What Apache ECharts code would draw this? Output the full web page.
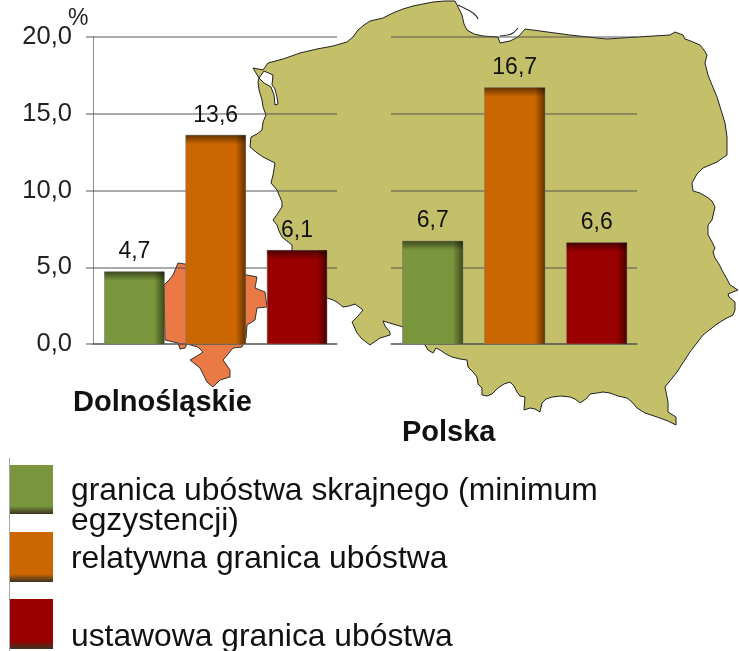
<!DOCTYPE html>
<html>
<head>
<meta charset="utf-8">
<style>
	html, body {margin: 0; padding: 0; background: #fff;}
	#chart {width: 739px; height: 651px;}
</style>
<script src="https://cdn.jsdelivr.net/npm/echarts@6/dist/echarts.min.js"></script>
</head>
<body>
<div id="chart"></div>
<script>
	// dane
	const categories = ['granica skrajna', 'relatywna', 'ustawowa'];
	const dolnoslaskie = [4.7, 13.6, 6.1];
	const polska = [6.7, 16.7, 6.6];
	const barColors = ['#7a963c', '#cc6600', '#990000'];
	const groupNames = ['Dolnośląskie', 'Polska'];
	const unit = '%';

	// kontury map (tylko tlo, piksele)
	const polandOutline = [[253,68],[263,70],[268,63],[283,59],[300,53],[317,49],[333,46],[347,42],[353,37],[358,30],[364,25],[370,21],
		[383,18],[393,13],[403,9],[413,6],[433,2],[445,1],[455,1],[458,7],[462,15],[464,24],[467,30],[474,34],[483,36],[498,37],[500,43],[510,41],[518,37],[525,29],
		[570,35],[597,38],[607,39],[637,37],[670,35],[675,32],[683,35],[685,39],[688,40],[693,42],[700,45],[704,50],[707,55],[705,63],[708,75],[712,85],[717,97],[721,110],[725,123],[727,137],[727,155],
		[717,162],[703,168],[697,174],[692,183],[693,191],[700,193],[707,197],[712,201],[715,207],[712,220],[708,225],[708,235],[711,240],[715,248],[713,252],[715,258],[719,264],[723,272],[727,279],[730,285],[738,290],
		[728,294],[729,297],[735,302],[735,310],[733,315],[725,319],[717,324],[703,335],[690,352],[677,372],[665,387],[668,402],[668,412],[676,417],[676,425],
		[668,421],[657,417],[645,413],[637,408],[632,402],[627,398],[618,396],[610,393],[603,392],[597,393],[590,394],[587,398],[583,401],[580,403],[575,399],[570,397],[561,396],[552,397],[546,399],[542,403],[540,412],[535,409],[530,408],[524,410],[525,397],
		[520,396],[517,392],[514,386],[510,382],[504,384],[498,388],[492,394],[487,396],[482,395],[482,388],[478,384],[477,377],[473,372],[468,367],[467,360],[460,359],[452,357],[446,354],[440,350],[436,348],[433,353],[428,350],[425,345],
		[403,327],[393,324],[383,321],[385,326],[390,332],[390,335],[380,338],[370,345],[362,339],[357,333],[352,322],[358,316],[363,310],[355,304],[349,306],[343,307],[337,302],[333,300],[327,298],
		[292,250],[292,245],[282,237],[279,231],[277,225],[273,220],[278,213],[282,207],[282,202],[277,190],[271,183],[273,175],[275,163],[269,160],[263,157],[256,152],[250,147],[251,137],[257,134],[262,130],[263,122],[266,115],[263,107],[262,100],[259,90],[258,82],[259,78],[256,73]];
	const lagoonOutline = [[264,71],[273,75],[272,85],[275,89],[277,97],[278,104],[275,105],[274,95],[271,87],[264,83],[259,78]];
	const helLine = [[458,5],[466,9],[473,13],[477,17],[478,19]];
	const spitLine = [[500,36],[508,35],[513,33],[518,28]];
	const regionOutline = [[178,263],[185,264],[210,270],[247,275],[257,277],[255,288],[265,292],[267,307],[257,308],[255,320],[247,325],[246,338],[242,347],[233,348],[229,353],[223,360],[230,370],[230,377],[220,380],[213,387],[207,382],[203,374],[200,368],[190,360],[197,356],[203,352],[198,347],[187,344],[185,348],[180,349],[178,343],[165,340],[164,285],[169,280],[173,275]];

	const fmt = v => v.toFixed(1).replace('.', ',');
	const font = 'Liberation Sans, Arial, sans-serif';
	const axisGray = 'rgba(80,80,80,0.65)';

	function renderBar(params, api) {
		const i = api.value(0);
		const val = api.value(1);
		const top = api.coord([i, val]);
		const base = api.coord([i, 0]);
		const w = api.size([1, 0])[0] * 0.735;
		const x = top[0] - w / 2 + 0.7;
		const h = base[1] - top[1];
		return {
			type: 'group',
			children: [
				{type: 'rect', shape: {x: x, y: top[1], width: w, height: h}, style: {fill: barColors[i], stroke: 'rgba(120,120,120,0.6)', lineWidth: 1}},
				{type: 'rect', shape: {x: x + w - 10, y: top[1], width: 10, height: h}, style: {fill: {type: 'linear', x: 0, y: 0, x2: 1, y2: 0, colorStops: [{offset: 0, color: 'rgba(0,0,0,0)'}, {offset: 1, color: 'rgba(0,0,0,0.5)'}]}}},
				{type: 'rect', shape: {x: x, y: top[1], width: w, height: 9}, style: {fill: {type: 'linear', x: 0, y: 0, x2: 0, y2: 1, colorStops: [{offset: 0, color: 'rgba(0,0,0,0.5)'}, {offset: 1, color: 'rgba(0,0,0,0)'}]}}},
				{type: 'text', style: {text: fmt(val), x: top[0] + 0.7, y: top[1] - 20, align: 'center', verticalAlign: 'middle', font: '23px ' + font, fill: '#111'}}
			]
		};
	}

	function makeSeries(values, idx) {
		return {
			type: 'custom',
			xAxisIndex: idx,
			yAxisIndex: idx,
			renderItem: renderBar,
			encode: {x: 0, y: 1},
			clip: false,
			data: values.map((v, i) => [i, v])
		};
	}

	function swatch(y, h, color) {
		return {
			type: 'rect', z: 5,
			shape: {x: 10, y: y, width: 43, height: h},
			style: {
				fill: {type: 'linear', x: 0, y: 0, x2: 0, y2: 1, colorStops: [
					{offset: 0, color: color}, {offset: 0.84, color: color}, {offset: 1, color: 'rgba(40,30,10,0.9)'}
				]}
			}
		};
	}

	function legendText(text, y) {
		return {type: 'text', z: 5, style: {text: text, x: 71, y: y, verticalAlign: 'middle', font: '31.8px ' + font, fill: '#111'}};
	}

	function boldText(text, x, y) {
		return {type: 'text', z: 5, style: {text: text, x: x, y: y, verticalAlign: 'middle', font: 'bold 29px ' + font, fill: '#111'}};
	}

	const gridLine = {lineStyle: {color: axisGray, width: 1.5}};

	const chart = echarts.init(document.getElementById('chart'), null, {renderer: 'canvas'});
	chart.setOption({
		animation: false,
		backgroundColor: '#fff',
		grid: [
			{left: 93, top: 37, width: 244, height: 307},
			{left: 391, top: 37, width: 246, height: 307}
		],
		xAxis: [0, 1].map(idx => ({
			type: 'category',
			gridIndex: idx,
			data: categories,
			axisLine: gridLine,
			axisTick: {show: false},
			axisLabel: {show: false}
		})),
		yAxis: [
			{
				type: 'value', gridIndex: 0, min: 0, max: 20, interval: 5,
				axisLine: {show: true, lineStyle: {color: axisGray, width: 1}},
				axisTick: {show: true, length: 7, lineStyle: {color: axisGray, width: 1.5}},
				splitLine: {show: true, lineStyle: {color: axisGray, width: 1.5}},
				axisLabel: {formatter: v => fmt(v), margin: 21, fontSize: 25.5, fontFamily: font, color: '#222', padding: [3, 0, 0, 0]}
			},
			{
				type: 'value', gridIndex: 1, min: 0, max: 20, interval: 5,
				axisLine: {show: false},
				axisTick: {show: false},
				axisLabel: {show: false},
				splitLine: {show: true, lineStyle: {color: axisGray, width: 1.5}}
			}
		],
		series: [makeSeries(dolnoslaskie, 0), makeSeries(polska, 1)],
		graphic: {
			elements: [
				{type: 'polygon', z: -3, silent: true, shape: {points: polandOutline}, style: {fill: '#c4bf69', stroke: '#222', lineWidth: 1}},
				{type: 'polygon', z: -2, silent: true, shape: {points: lagoonOutline}, style: {fill: '#fff', stroke: '#222', lineWidth: 1}},
				{type: 'polyline', z: -2, silent: true, shape: {points: helLine, smooth: 0.4}, style: {fill: null, stroke: '#333', lineWidth: 1.2}},
				{type: 'polyline', z: -2, silent: true, shape: {points: spitLine, smooth: 0.4}, style: {fill: null, stroke: '#333', lineWidth: 1.2}},
				{type: 'polygon', z: -2, silent: true, shape: {points: regionOutline}, style: {fill: '#e97a45', stroke: '#333', lineWidth: 1}},
				{type: 'text', z: 5, style: {text: unit, x: 68, y: 19, verticalAlign: 'middle', font: '23px ' + font, fill: '#222'}},
				boldText(groupNames[0], 73, 403),
				boldText(groupNames[1], 402, 433),
				{type: 'line', z: 5, shape: {x1: 9.5, y1: 458, x2: 9.5, y2: 651}, style: {stroke: '#a8a8a8', lineWidth: 1}},
				swatch(465, 49, barColors[0]),
				swatch(532, 50, barColors[1]),
				swatch(599, 50, barColors[2]),
				legendText('granica ubóstwa skrajnego (minimum', 491),
				legendText('egzystencji)', 521),
				legendText('relatywna granica ubóstwa', 559),
				legendText('ustawowa granica ubóstwa', 637)
			]
		}
	});
</script>
</body>
</html>
